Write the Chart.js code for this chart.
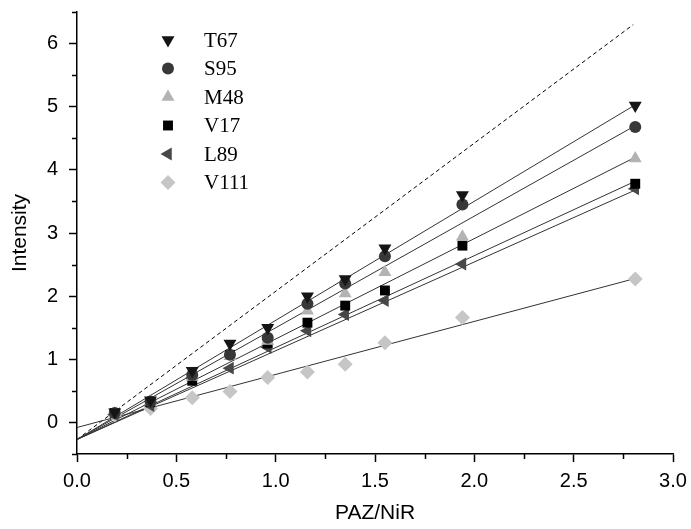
<!DOCTYPE html>
<html>
<head>
<meta charset="utf-8">
<script src="https://cdn.jsdelivr.net/npm/chart.js@4.4.1/dist/chart.umd.min.js"></script>
<style>
  html, body { margin: 0; padding: 0; background: #ffffff; }
  #wrap { width: 691px; height: 529px; position: relative; }
</style>
</head>
<body>
<div id="wrap"><canvas id="c" width="691" height="529"></canvas></div>
<script>
// ---- data ----
const seriesNames = ['T67', 'S95', 'M48', 'V17', 'L89', 'V111'];
const xVals = [0.19, 0.37, 0.58, 0.77, 0.96, 1.16, 1.35, 1.55, 1.94, 2.81];
const T67  = [0.16, 0.35, 0.82, 1.25, 1.50, 2.00, 2.27, 2.76, 3.60, 5.02];
const S95  = [0.15, 0.33, 0.75, 1.07, 1.34, 1.88, 2.20, 2.63, 3.45, 4.68];
const M48  = [0.14, 0.33, 0.72, 1.05, 1.29, 1.77, 2.04, 2.38, 2.94, 4.18];
const V17  = [0.15, 0.32, 0.66, 1.07, 1.25, 1.58, 1.85, 2.09, 2.80, 3.78];
const L89  = [0.12, 0.27, 0.70, 0.86, 1.19, 1.45, 1.71, 1.93, 2.51, 3.70];
const V111 = [0.12, 0.22, 0.39, 0.49, 0.71, 0.80, 0.92, 1.26, 1.66, 2.27];

// fitted lines (end points)
const fitX    = [0, 2.81];
const fitT67  = [-0.27, 5.03];
const fitS95  = [-0.27, 4.70];
const fitM48  = [-0.27, 4.20];
const fitV17  = [-0.27, 3.82];
const fitL89  = [-0.27, 3.68];
const fitV111 = [-0.08, 2.28];
// dashed reference line
const refX = [0, 2.80];
const refY = [-0.27, 6.30];

const xTicks = [0, 0.5, 1.0, 1.5, 2.0, 2.5, 3.0];
const xMinor = [0.25, 0.75, 1.25, 1.75, 2.25, 2.75];
const yTicks = [0, 1, 2, 3, 4, 5, 6];
const yMinor = [-0.5, 0.5, 1.5, 2.5, 3.5, 4.5, 5.5, 6.5];

// ---- styles ----
const styles = {
  T67:  { color: '#151515', pointStyle: 'triangle', rotation: 180, radius: 7.5 },
  S95:  { color: '#383838', pointStyle: 'circle',   rotation: 0,   radius: 6 },
  M48:  { color: '#b3b3b3', pointStyle: 'triangle', rotation: 0,   radius: 7.5 },
  V17:  { color: '#000000', pointStyle: 'rect',     rotation: 0,   radius: 7 },
  L89:  { color: '#474747', pointStyle: 'triangle', rotation: 270, radius: 7.5 },
  V111: { color: '#c6c6c6', pointStyle: 'rectRot',  rotation: 0,   radius: 7.5 }
};
const seriesVals = { T67, S95, M48, V17, L89, V111 };
const fitVals = { T67: fitT67, S95: fitS95, M48: fitM48, V17: fitV17, L89: fitL89, V111: fitV111 };

const datasets = [];
seriesNames.forEach(n => {
  datasets.push({
    type: 'line', label: n + ' fit',
    data: fitX.map((x, i) => ({ x, y: fitVals[n][i] })),
    borderColor: '#333333', borderWidth: 1, pointRadius: 0, showLine: true, fill: false, order: 2
  });
});
datasets.push({
  type: 'line', label: 'ref',
  data: refX.map((x, i) => ({ x, y: refY[i] })),
  borderColor: '#000', borderWidth: 1, borderDash: [4, 3], pointRadius: 0, showLine: true, fill: false, order: 2
});
seriesNames.forEach(n => {
  const s = styles[n];
  datasets.push({
    type: 'scatter', label: n,
    data: xVals.map((x, i) => ({ x, y: seriesVals[n][i] })),
    pointStyle: s.pointStyle, rotation: s.rotation, pointRadius: s.radius,
    backgroundColor: s.color, borderColor: s.color, borderWidth: 0, order: 1
  });
});

// minor ticks + legend plugin
const extras = {
  id: 'extras',
  afterDraw(chart) {
    const ctx = chart.ctx;
    const xs = chart.scales.x, ys = chart.scales.y;
    const ca = chart.chartArea;
    ctx.save();
    ctx.strokeStyle = '#000';
    ctx.lineWidth = 1.5;
    ctx.beginPath();
    xMinor.forEach(v => {
      const px = Math.round(xs.getPixelForValue(v)) + 0.5;
      ctx.moveTo(px, ca.bottom); ctx.lineTo(px, ca.bottom + 5);
    });
    yMinor.forEach(v => {
      const py = Math.round(ys.getPixelForValue(v)) + 0.5;
      ctx.moveTo(ca.left, py); ctx.lineTo(ca.left - 5, py);
    });
    ctx.stroke();

    // legend
    const lx = 168, tx = 204, y0 = 40, dy = 28.5;
    ctx.font = '21px "Liberation Serif", "Times New Roman", serif';
    ctx.textBaseline = 'middle';
    ctx.textAlign = 'left';
    seriesNames.forEach((n, i) => {
      const s = styles[n];
      const y = y0 + i * dy;
      ctx.fillStyle = s.color; ctx.strokeStyle = s.color;
      Chart.helpers.drawPoint(ctx, { pointStyle: s.pointStyle, rotation: s.rotation, radius: s.radius, borderWidth: 0 }, lx, y);
      ctx.fillStyle = '#000';
      ctx.fillText(n, tx, y + 1);
    });
    ctx.restore();
  }
};

Chart.defaults.font.family = '"Liberation Sans", Arial, sans-serif';
Chart.defaults.color = '#000';

new Chart(document.getElementById('c'), {
  type: 'scatter',
  data: { datasets },
  options: {
    responsive: false,
    animation: false,
    layout: { padding: { top: 12, right: 18, left: 0, bottom: 0 } },
    plugins: { legend: { display: false }, tooltip: { enabled: false } },
    scales: {
      x: {
        type: 'linear', min: 0, max: 3,
        afterBuildTicks: s => { s.ticks = xTicks.map(v => ({ value: v })); },
        afterFit: s => { s.height = 75; s.paddingLeft = 0; s.paddingRight = 0; },
        ticks: { font: { size: 20 }, padding: 7, maxRotation: 0, callback: v => v.toFixed(1) },
        grid: { drawOnChartArea: false, tickLength: 8, color: '#000', tickColor: '#000', tickWidth: 1.5 },
        border: { display: true, color: '#000', width: 1.5 },
        title: { display: true, text: 'PAZ/NiR', font: { size: 21 }, padding: { top: 0, bottom: 3 } }
      },
      y: {
        type: 'linear', min: -0.5, max: 6.5,
        afterBuildTicks: s => { s.ticks = yTicks.map(v => ({ value: v })); },
        afterFit: s => { s.width = 77; s.paddingTop = 0; s.paddingBottom = 0; },
        ticks: { font: { size: 20 }, padding: 11, callback: v => String(v) },
        grid: { drawOnChartArea: false, tickLength: 8, color: '#000', tickColor: '#000', tickWidth: 1.5 },
        border: { display: true, color: '#000', width: 1.5 },
        title: { display: true, text: 'Intensity', font: { size: 21 }, padding: { top: 8, bottom: 0 } }
      }
    }
  },
  plugins: [extras]
});
</script>
</body>
</html>
